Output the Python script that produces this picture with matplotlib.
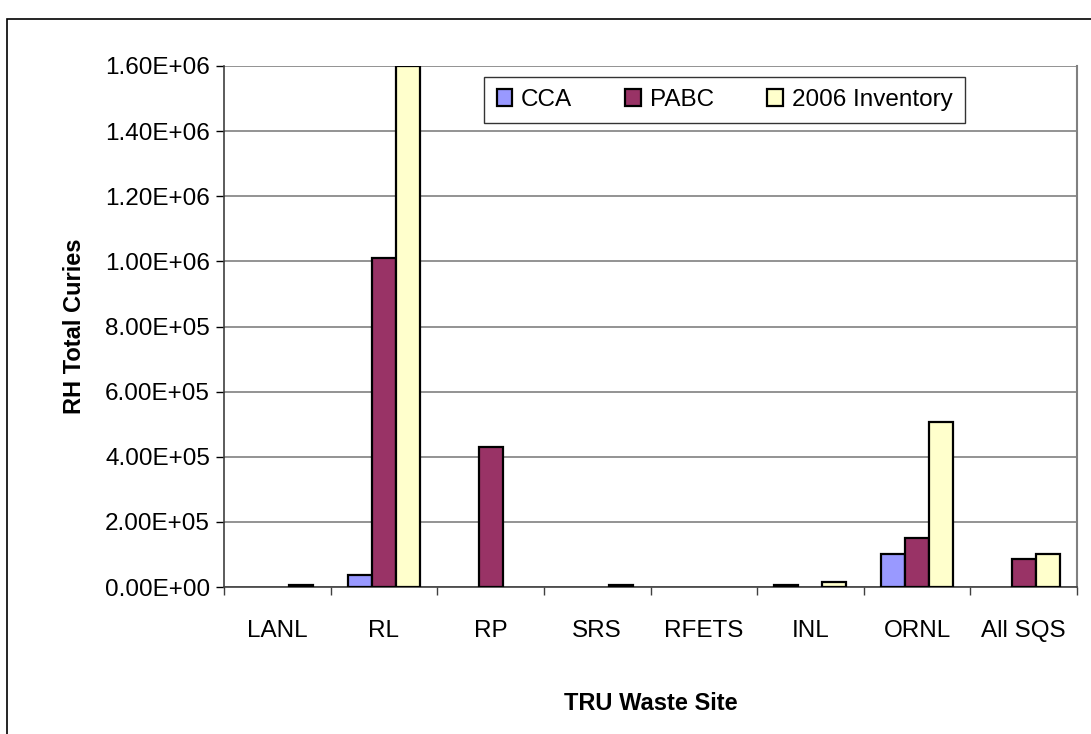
import numpy as np
import matplotlib.pyplot as plt
from matplotlib.patches import Rectangle
from matplotlib.ticker import FuncFormatter

plt.rcParams['font.family'] = ['Liberation Sans', 'DejaVu Sans']

sites = ["LANL", "RL", "RP", "SRS", "RFETS", "INL", "ORNL", "All SQS"]
cca = [0, 37000, 0, 0, 0, 6000, 100000, 0]
pabc = [0, 1010000, 430000, 0, 0, 0, 150000, 86000]
inv2006 = [7000, 1600000, 0, 7000, 0, 15000, 507000, 100000]

series = [("CCA", cca, "#9999FF"),
          ("PABC", pabc, "#993366"),
          ("2006 Inventory", inv2006, "#FFFFCC")]

fig = plt.figure(figsize=(10.91, 7.34), dpi=100)
ax = fig.add_axes([224/1091, 1 - 587/734, (1077 - 224)/1091, (587 - 66)/734])

# outer chart border
fig.patches.append(Rectangle((7/1091, -0.1), 1.2, 1 - 19/734 + 0.1,
                             transform=fig.transFigure, fill=False,
                             edgecolor="black", linewidth=1.2))

x = np.arange(len(sites))
w = 0.225
for i, (name, vals, col) in enumerate(series):
    v = np.array(vals, dtype=float)
    v[v == 0] = np.nan  # empty cells draw nothing
    ax.bar(x + (i - 1) * w, v, w, color=col, edgecolor="black",
           linewidth=1.6, label=name, zorder=3)

ax.set_xlim(-0.5, len(sites) - 0.5)
ax.set_ylim(0, 1.6e6)
ax.set_yticks(np.arange(0, 1.61e6, 2e5))
ax.yaxis.set_major_formatter(FuncFormatter(lambda v, p: f"{v:.2E}"))
ax.grid(axis="y", color="#808080", linewidth=1.2, zorder=0)

ax.set_xticks(x)
ax.set_xticklabels(sites)
ax.set_xticks(np.arange(-0.5, len(sites), 1), minor=True)
ax.tick_params(axis="x", which="major", length=0, pad=24, labelsize=17.5)
ax.tick_params(axis="x", which="minor", length=6, width=1, color="#404040")
ax.tick_params(axis="y", length=6, width=1, labelsize=17.5, pad=4)

ax.spines["top"].set_visible(False)
ax.spines["right"].set_color("#808080")
ax.spines["right"].set_linewidth(1.5)
for s in ["left", "bottom"]:
    ax.spines[s].set_color("#404040")
    ax.spines[s].set_linewidth(1.2)

ax.set_ylabel("RH Total Curies", fontsize=17, fontweight="bold", labelpad=14)
ax.set_xlabel("TRU Waste Site", fontsize=17, fontweight="bold", labelpad=36)

leg = ax.legend(ncol=3, loc="center", bbox_to_anchor=((487 + 962) / 2 / 1091, 1 - 100/734),
                bbox_transform=fig.transFigure, fontsize=17.5, frameon=True,
                fancybox=False, handlelength=0.65, handleheight=0.65,
                handletextpad=0.35, columnspacing=2.2, borderpad=0.5,
                borderaxespad=0)
leg.get_frame().set_edgecolor("black")
leg.get_frame().set_linewidth(1.0)

fig.savefig("out.png", dpi=100)
